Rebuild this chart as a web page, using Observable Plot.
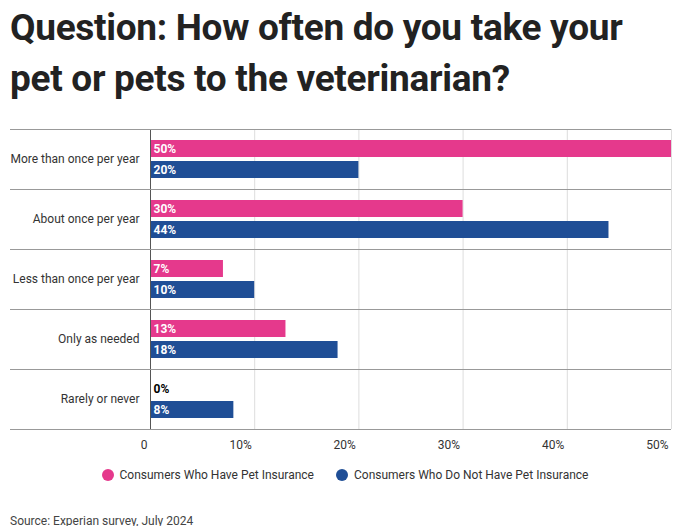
<!DOCTYPE html>
<html><head><meta charset="utf-8">
<script src="https://cdn.jsdelivr.net/npm/d3@7"></script>
<script src="https://cdn.jsdelivr.net/npm/@observablehq/plot@0.6"></script>
<style>
body{margin:0;background:#fff;font-family:Roboto,sans-serif;width:680px}
h1{margin:0;padding:2px 0 0 10px;width:630px;height:118px;font-size:37px;line-height:51px;font-weight:700;color:#222;letter-spacing:-0.3px}
.legend{display:flex;justify-content:center;gap:22px;font-size:12px;color:#333;margin-top:8px;padding-left:10px}
.legend span{display:flex;align-items:center;gap:6px}
.legend i{width:12px;height:12px;border-radius:50%;display:inline-block}
.src{font-size:12px;color:#444;margin:32px 0 0 10px}
</style></head><body>
<h1>Question: How often do you take your pet or pets to the veterinarian?</h1>
<div id="chart"></div>
<div class="legend"><span><i style="background:#e5398c"></i>Consumers Who Have Pet Insurance</span><span><i style="background:#1f4e96"></i>Consumers Who Do Not Have Pet Insurance</span></div>
<div class="src">Source: Experian survey, July 2024</div>
<script>
const categories=["More than once per year","About once per year","Less than once per year","Only as needed","Rarely or never"];
const series=["Consumers Who Have Pet Insurance","Consumers Who Do Not Have Pet Insurance"];
const withIns=[50,30,7,13,0];
const withoutIns=[20,44,10,18,8];
const xTicks=[0,10,20,30,40,50];
const colors=["#e5398c","#1f4e96"];
const data=[];
categories.forEach((c,i)=>{data.push({c,s:series[0],v:withIns[i]});data.push({c,s:series[1],v:withoutIns[i]});});
const chart=Plot.plot({
  width:680,height:340,marginLeft:150,marginRight:9,marginTop:9,marginBottom:31,
  style:{fontFamily:"Roboto,sans-serif",fontSize:"12px",color:"#333"},
  x:{domain:[0,50],ticks:xTicks,tickFormat:d=>d===0?"0":d+"%",label:null,tickSize:0},
  y:{domain:series,paddingInner:0.19,paddingOuter:0.52,axis:null},
  fy:{domain:categories,padding:0,label:null,tickSize:0},
  color:{domain:series,range:colors},
  marks:[
    Plot.gridX(xTicks.slice(1),{stroke:"#ddd",strokeOpacity:1}),
    Plot.axisX({ticks:xTicks,tickFormat:d=>d===0?"0":d+"%",tickSize:0,textAnchor:"end",dx:-3,dy:2,label:null,fontSize:12}),
    Plot.axisFy({anchor:"left",tickSize:0,dx:-2,label:null,fontSize:12}),
    Plot.barX(data,{x:"v",y:"s",fy:"c",fill:"s"}),
    Plot.text(data,{x:0,y:"s",fy:"c",text:d=>d.v+"%",textAnchor:"start",dx:3,fill:d=>d.v===0?"#000":"#fff",fontWeight:"bold",fontSize:12}),
    Plot.ruleX([0],{stroke:"#555"})
  ]
});
document.getElementById("chart").appendChild(chart);
const fy=chart.scale("fy");
const svg=d3.select(chart);
const ys=categories.map(c=>fy.apply(c));ys.push(ys[ys.length-1]+fy.bandwidth);
ys.forEach(y=>svg.append("line").attr("x1",10).attr("x2",671).attr("y1",y+0.5).attr("y2",y+0.5).attr("stroke","#999"));
</script></body></html>
